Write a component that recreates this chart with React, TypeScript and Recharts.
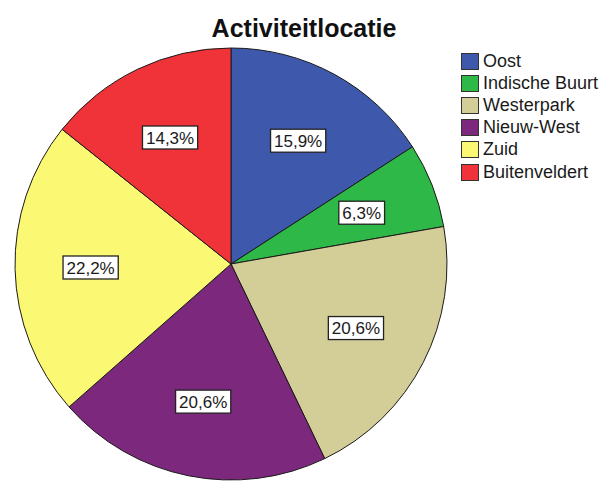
import React from 'react';
import { PieChart, Pie, Cell, Legend } from 'recharts';

const categories = ['Oost', 'Indische Buurt', 'Westerpark', 'Nieuw-West', 'Zuid', 'Buitenveldert'];
const counts = [10, 4, 13, 13, 14, 9];
const colors = ['#3E58AC', '#2EB848', '#D3CE97', '#7C287D', '#FBF873', '#EF3338'];

const data = categories.map((name, i) => ({ name, value: counts[i] }));

const FONT = '"Liberation Sans", Arial, sans-serif';
const RADIAN = Math.PI / 180;

const renderLabel = (props: any) => {
  const { cx, cy, midAngle, outerRadius, percent } = props;
  const r = outerRadius * 0.65;
  const x = cx + r * Math.cos(-midAngle * RADIAN);
  const y = cy + r * Math.sin(-midAngle * RADIAN);
  const text = (percent * 100).toFixed(1).replace('.', ',') + '%';
  let em = 0;
  for (const ch of text) {
    if (ch === ',') em += 0.278;
    else if (ch === '%') em += 0.889;
    else em += 0.556;
  }
  const w = em * 17 + 7;
  const h = 23;
  return (
    <g>
      <rect x={x - w / 2} y={y - h / 2} width={w} height={h} fill="#ffffff" stroke="#222222" strokeWidth={1.3} />
      <text x={x} y={y + 6} textAnchor="middle" fontFamily={FONT} fontSize={17} fill="#1a1a1a">
        {text}
      </text>
    </g>
  );
};

const renderLegend = () => (
  <div style={{ fontFamily: FONT, fontSize: 18, color: '#1a1a1a' }}>
    {categories.map((name, i) => (
      <div key={name} style={{ display: 'flex', alignItems: 'center', height: 22.2, whiteSpace: 'nowrap' }}>
        <span
          style={{
            display: 'inline-block',
            width: 16,
            height: 15,
            background: colors[i],
            border: '1px solid #333',
            marginRight: 4,
            flexShrink: 0,
          }}
        />
        <span>{name}</span>
      </div>
    ))}
  </div>
);

export default function App() {
  return (
    <div style={{ position: 'absolute', left: 0, top: 0, width: 603, height: 483, background: '#fff' }}>
      <div
        style={{
          position: 'absolute',
          left: 0,
          top: 0,
          width: 608,
          textAlign: 'center',
          fontFamily: FONT,
          fontWeight: 'bold',
          fontSize: 25,
          lineHeight: '30px',
          paddingTop: 13,
          color: '#111',
          zIndex: 2,
        }}
      >
        Activiteitlocatie
      </div>
      <PieChart width={603} height={483} margin={{ top: 0, right: 0, bottom: 0, left: 0 }}>
        <Pie
          data={data}
          dataKey="value"
          nameKey="name"
          cx={231}
          cy={264}
          outerRadius={216}
          startAngle={90}
          endAngle={-270}
          stroke="#1a1a1a"
          strokeWidth={1}
          label={renderLabel}
          labelLine={false}
          isAnimationActive={false}
        >
          {data.map((d, i) => (
            <Cell key={d.name} fill={colors[i]} />
          ))}
        </Pie>
        <Legend
          layout="vertical"
          align="right"
          verticalAlign="top"
          content={renderLegend}
          wrapperStyle={{ position: 'absolute', left: 461, top: 50, width: 142, right: 'auto' }}
        />
      </PieChart>
    </div>
  );
}
